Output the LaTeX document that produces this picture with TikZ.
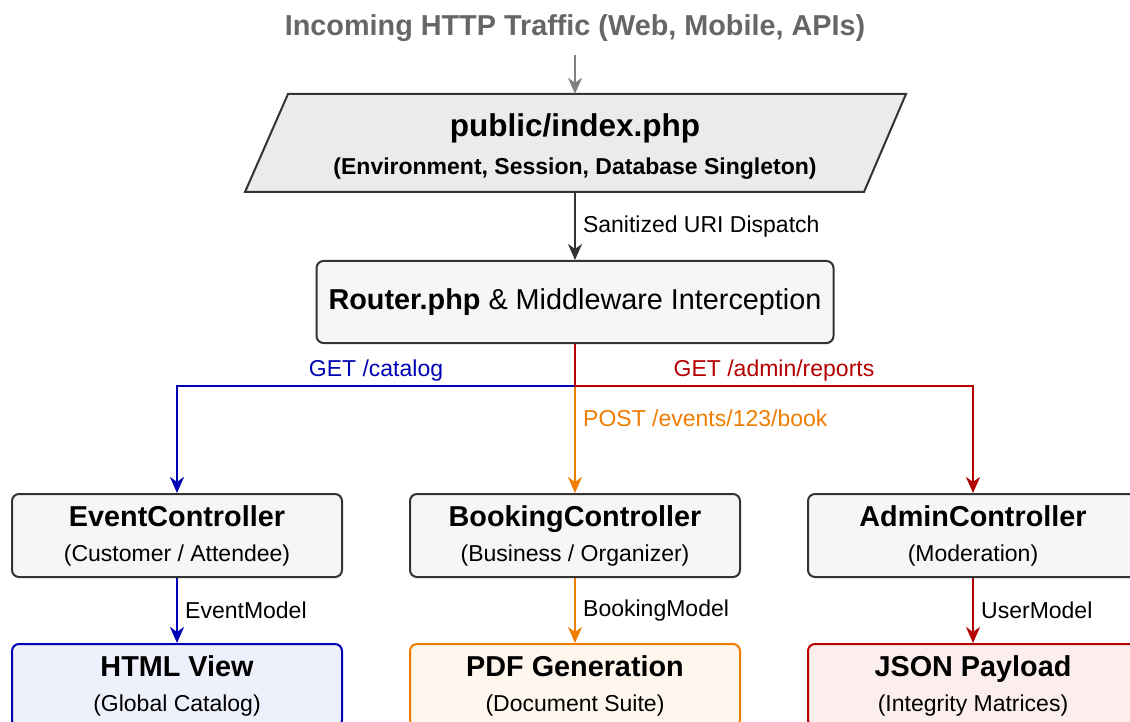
\documentclass[tikz,border=0pt]{standalone}
\usepackage{fontspec}
\setmainfont{Liberation Sans}
\usetikzlibrary{arrows.meta}
\usetikzlibrary{positioning}
\definecolor{trafficgray}{HTML}{666666}
\definecolor{arrowgray}{HTML}{808080}
\definecolor{edgedark}{HTML}{333333}
\definecolor{parafill}{HTML}{EBEBEB}
\definecolor{boxfill}{HTML}{F6F6F6}
\definecolor{getblue}{HTML}{0000B4}
\definecolor{postorange}{HTML}{EE7D00}
\definecolor{adminred}{HTML}{B40000}
\definecolor{htmlfill}{HTML}{EEF0FC}
\definecolor{pdffill}{HTML}{FFF6EE}
\definecolor{jsonfill}{HTML}{FDEEEE}
\newcommand{\headtxt}{\fontsize{28.8}{34}\selectfont\bfseries}

\begin{document}
\begin{tikzpicture}[x={(1pt,0)},y={(0,-1pt)},
	tip/.style={-{Stealth[length=16pt,width=14pt,inset=5pt]}},
	labeltxt/.style={font=\fontsize{23}{27}\selectfont,inner xsep=7pt,inner ysep=4pt},
	ctrlbox/.style={draw=edgedark,fill=boxfill,line width=2pt,rounded corners=7pt,minimum width=330pt,minimum height=83pt,align=center,font=\fontsize{23}{35}\selectfont},
	outbox/.style 2 args={ctrlbox,draw=#1,fill=#2},
	link/.style={line width=2.4pt,tip}]
						\useasboundingbox (0,0) rectangle (1130,722);
						\clip (0,0) rectangle (1130,722);
						\node[font=\headtxt,text=trafficgray] (traffic) at (575,28) {Incoming HTTP Traffic (Web, Mobile, APIs)};
						\draw[draw=edgedark,fill=parafill,line width=2pt] (288,94)--(906,94)--(864,192)--(245,192)--cycle;
						\node[minimum width=619pt,minimum height=98pt,align=center,font=\fontsize{23}{38}\selectfont\bfseries] (index) at (575,143) {\rule{0pt}{30pt}{\fontsize{31.5}{38}\selectfont public/index.php}\\(Environment, Session, Database Singleton)};
						\node[ctrlbox,minimum width=517pt,minimum height=82pt,font=\fontsize{28.8}{34}\selectfont] (router) at (575,302) {\textbf{Router.php} \& Middleware Interception};
						\coordinate (split) at (575,386);
						\node[ctrlbox] (eventctl) at (177,535.5) {{\headtxt EventController}\\(Customer / Attendee)};
						\node[ctrlbox] (bookingctl) at (575,535.5) {{\headtxt BookingController}\\(Business / Organizer)};
						\node[ctrlbox] (adminctl) at (973,535.5) {{\headtxt AdminController}\\(Moderation)};
						\node[outbox={getblue}{htmlfill}] (htmlview) at (177,685.5) {{\headtxt HTML View}\\(Global Catalog)};
						\node[outbox={postorange}{pdffill}] (pdfgen) at (575,685.5) {{\headtxt PDF Generation}\\(Document Suite)};
						\node[outbox={adminred}{jsonfill}] (jsonout) at (973,685.5) {{\headtxt JSON Payload}\\(Integrity Matrices)};
						\draw[link,arrowgray,line width=2pt,shorten <=10pt] (traffic.south)--(index.north);
						\draw[link,edgedark,line width=2pt] (index.south)--node[labeltxt,right,text=black]{Sanitized URI Dispatch}(router.north);
						\draw[link,postorange] (split)--node[labeltxt,right,pos=0.3]{POST /events/123/book}(bookingctl.north);
						\draw[link,getblue] (split)-|node[labeltxt,above,pos=0.25]{GET /catalog}(eventctl.north);
						\draw[link,adminred] (split)-|node[labeltxt,above,pos=0.25]{GET /admin/reports}(adminctl.north);
						\draw[adminred,line width=2.4pt] (router.south)--(split);
						\draw[link,getblue] (eventctl)--node[labeltxt,right,text=black]{EventModel}(htmlview);
						\draw[link,postorange] (bookingctl)--node[labeltxt,right,text=black]{BookingModel}(pdfgen);
						\draw[link,adminred] (adminctl)--node[labeltxt,right,text=black]{UserModel}(jsonout);
					\end{tikzpicture}
\end{document}
